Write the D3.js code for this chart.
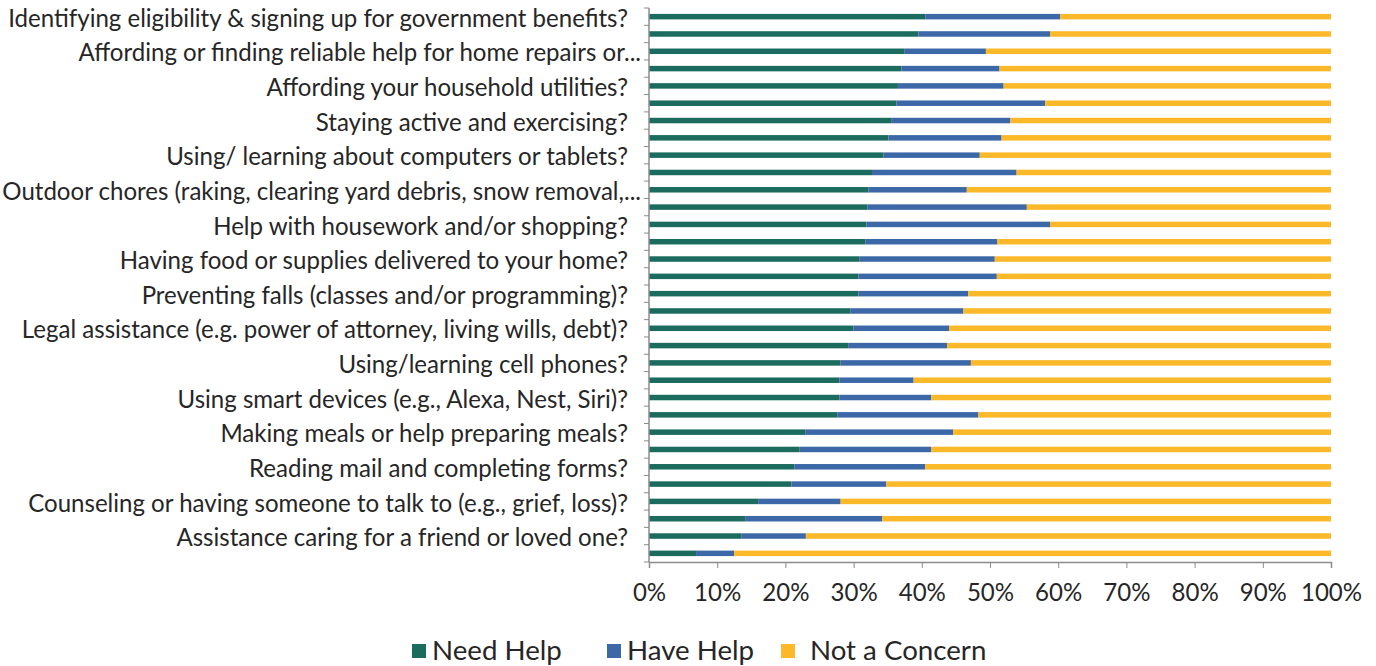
<!DOCTYPE html>
<html>
<head>
<meta charset="utf-8">
<script src="https://cdn.jsdelivr.net/npm/d3@7"></script>
<style>
  body { margin: 0; background: #fff; }
  svg { display: block; font-family: Lato, "Open Sans", sans-serif; }
</style>
</head>
<body>
<div id="chart"></div>
<script>
// every other category label is hidden in the original (Excel skipped them)
const labels = [
    "Identifying eligibility & signing up for government benefits?", "",
    "Affording or finding reliable help for home repairs or...", "",
    "Affording your household utilities?", "",
    "Staying active and exercising?", "",
    "Using/ learning about computers or tablets?", "",
    "Outdoor chores (raking, clearing yard debris, snow removal,...", "",
    "Help with housework and/or shopping?", "",
    "Having food or supplies delivered to your home?", "",
    "Preventing falls (classes and/or programming)?", "",
    "Legal assistance (e.g. power of attorney, living wills, debt)?", "",
    "Using/learning cell phones?", "",
    "Using smart devices (e.g., Alexa, Nest, Siri)?", "",
    "Making meals or help preparing meals?", "",
    "Reading mail and completing forms?", "",
    "Counseling or having someone to talk to (e.g., grief, loss)?", "",
    "Assistance caring for a friend or loved one?", ""
];

const needHelp = [40.5, 39.5, 37.5, 37.0, 36.5, 36.3, 35.6, 35.1, 34.4, 32.7, 32.2, 32.0, 31.9, 31.7, 30.9, 30.7,
                  30.7, 29.5, 30.0, 29.2, 28.1, 27.9, 27.9, 27.6, 22.9, 22.1, 21.3, 20.9, 16.0, 14.1, 13.6, 6.9];
const haveHelp = [19.8, 19.3, 11.9, 14.4, 15.5, 21.8, 17.4, 16.6, 14.1, 21.2, 14.4, 23.4, 26.9, 19.4, 19.8, 20.3,
                  16.1, 16.6, 14.0, 14.5, 19.1, 10.9, 13.5, 20.7, 21.7, 19.3, 19.2, 13.9, 12.1, 20.1, 9.4, 5.6];
const notConcern = [39.7, 41.2, 50.6, 48.6, 48.0, 41.9, 47.0, 48.3, 51.5, 46.1, 53.4, 44.6, 41.2, 48.9, 49.3, 49.0,
                    53.2, 53.9, 56.0, 56.3, 52.8, 61.2, 58.6, 51.7, 55.4, 58.6, 59.5, 65.2, 71.9, 65.8, 77.0, 87.5];

const seriesNames = ["Need Help", "Have Help", "Not a Concern"];
const colors = ["#1b6b5f", "#3d68a8", "#fbb829"];
const xTicks = [0, 0.1, 0.2, 0.3, 0.4, 0.5, 0.6, 0.7, 0.8, 0.9, 1];

const width = 1376, height = 666;
const plotLeft = 649, plotRight = 1331, plotTop = 8, plotBottom = 562;

const rows = labels.map((l, i) => ({
    idx: i,
    "Need Help": needHelp[i],
    "Have Help": haveHelp[i],
    "Not a Concern": notConcern[i]
}));
rows.forEach(r => {
    const t = r["Need Help"] + r["Have Help"] + r["Not a Concern"];
    seriesNames.forEach(k => r[k] = r[k] / t);
});

const svg = d3.select("#chart").append("svg")
    .attr("width", width)
    .attr("height", height);

const x = d3.scaleLinear().domain([0, 1]).range([plotLeft, plotRight]);
const y = d3.scaleBand().domain(d3.range(labels.length)).range([plotTop, plotBottom]).padding(0);
const barH = 5.5;

const stack = d3.stack().keys(seriesNames);
const layers = stack(rows);

svg.append("g")
    .selectAll("g")
    .data(layers)
    .enter()
    .append("g")
    .attr("fill", (d, i) => colors[i])
    .selectAll("rect")
    .data(d => d)
    .enter()
    .append("rect")
    .attr("x", d => x(d[0]))
    .attr("width", d => x(d[1]) - x(d[0]))
    .attr("y", (d, i) => y(i) + y.bandwidth() / 2 - barH / 2)
    .attr("height", barH);

// y axis: line plus small ticks at the category boundaries
const axisColor = "#8c8c8c";
svg.append("line")
    .attr("x1", plotLeft).attr("x2", plotLeft)
    .attr("y1", plotTop).attr("y2", plotBottom)
    .attr("stroke", axisColor).attr("stroke-width", 1.5);

svg.append("g")
    .selectAll("line")
    .data(d3.range(labels.length + 1))
    .enter()
    .append("line")
    .attr("x1", plotLeft - 5).attr("x2", plotLeft)
    .attr("y1", i => plotTop + i * y.step())
    .attr("y2", i => plotTop + i * y.step())
    .attr("stroke", axisColor).attr("stroke-width", 1);

// category labels
const labelG = svg.append("g")
    .attr("font-size", "21px")
    .attr("fill", "#262626");

labelG.selectAll("text")
    .data(labels.map((l, i) => ({ l, i })).filter(d => d.l !== ""))
    .enter()
    .append("text")
    .attr("x", d => d.l.endsWith("...") ? 641 : 628)
    .attr("y", d => y(d.i) + y.bandwidth() / 2)
    .attr("dy", "0.42em")
    .attr("text-anchor", "end")
    .text(d => d.l);

// fit label font so the longest line matches the original width
const first = labelG.select("text").node();
const w0 = first.getComputedTextLength();
const fs = 21 * 620 / w0;
labelG.attr("font-size", fs + "px");

// x axis
const xAxis = svg.append("g")
    .attr("transform", `translate(0,${plotBottom})`)
    .call(d3.axisBottom(x).tickValues(xTicks).tickFormat(d3.format(".0%")).tickSize(6).tickPadding(16));
xAxis.select(".domain").attr("stroke", axisColor).attr("stroke-width", 1.5);
xAxis.selectAll(".tick line").attr("stroke", axisColor);
xAxis.selectAll("text")
    .attr("font-family", "Lato, 'Open Sans', sans-serif")
    .attr("font-size", fs + "px")
    .attr("fill", "#262626");

// legend
const legendX = [412, 607, 781];
const legend = svg.append("g");
seriesNames.forEach((name, i) => {
    legend.append("rect")
        .attr("x", legendX[i]).attr("y", 644)
        .attr("width", 14).attr("height", 14)
        .attr("fill", colors[i]);
    legend.append("text")
        .attr("x", legendX[i] + (i === 2 ? 29 : 20))
        .attr("y", 660)
        .attr("font-size", (fs * 1.15) + "px")
        .attr("fill", "#262626")
        .text(name);
});
</script>
</body>
</html>
